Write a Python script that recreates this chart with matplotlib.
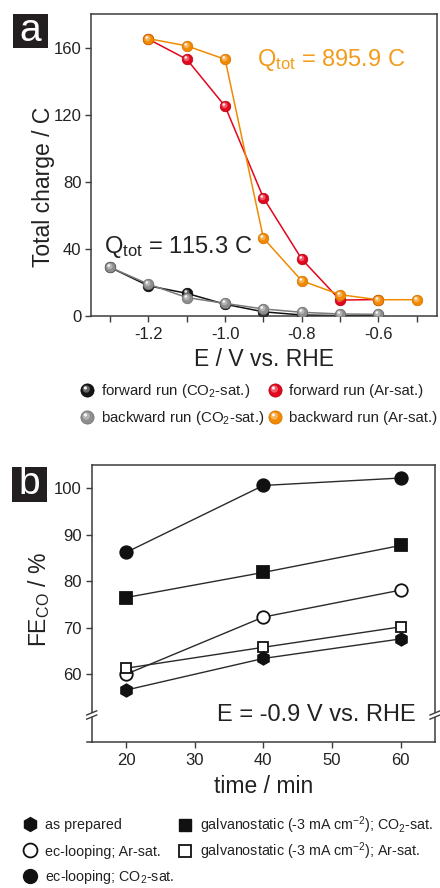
import numpy as np
import matplotlib
matplotlib.use('Agg')
import matplotlib.pyplot as plt
from matplotlib.path import Path
from matplotlib.lines import Line2D
from matplotlib.legend_handler import HandlerTuple
from matplotlib.patches import Rectangle

plt.rcParams['font.family'] = ['Liberation Sans', 'DejaVu Sans']
plt.rcParams['mathtext.fontset'] = 'custom'
plt.rcParams['mathtext.rm'] = 'Liberation Sans'
plt.rcParams['mathtext.it'] = 'Liberation Sans:italic'
plt.rcParams['mathtext.bf'] = 'Liberation Sans:bold'
plt.rcParams['mathtext.default'] = 'regular'
plt.rcParams['axes.unicode_minus'] = False

# ---------------- data: panel a ----------------
x_fwd_co2 = [-1.3, -1.2, -1.1, -1.0, -0.9, -0.8, -0.7, -0.6]
y_fwd_co2 = [29.0, 18.0, 13.5, 7.0, 2.5, 0.6, 0.2, 0.3]
x_bwd_co2 = [-1.3, -1.2, -1.1, -1.0, -0.9, -0.8, -0.7, -0.6]
y_bwd_co2 = [29.0, 19.0, 11.0, 7.5, 4.2, 2.2, 1.2, 1.0]
x_fwd_ar = [-1.2, -1.1, -1.0, -0.9, -0.8, -0.7, -0.6]
y_fwd_ar = [165.0, 153.0, 125.0, 70.4, 33.9, 9.5, 9.8]
x_bwd_ar = [-1.2, -1.1, -1.0, -0.9, -0.8, -0.7, -0.6, -0.5]
y_bwd_ar = [165.3, 161.0, 153.0, 46.4, 21.0, 12.7, 9.7, 9.7]
labels_a = ['forward run (CO$_2$-sat.)', 'backward run (CO$_2$-sat.)',
            'forward run (Ar-sat.)', 'backward run (Ar-sat.)']
xticks_a = [-1.3, -1.2, -1.1, -1.0, -0.9, -0.8, -0.7, -0.6, -0.5]
xticklabels_a = ['', '-1.2', '', '-1.0', '', '-0.8', '', '-0.6', '']
yticks_a = [0, 40, 80, 120, 160]
qtot_co2 = 'Q$_{tot}$ = 115.3 C'
qtot_ar = 'Q$_{tot}$ = 895.9 C'

# ---------------- data: panel b ----------------
time_min = [20, 40, 60]
fe_as_prepared = [56.6, 63.4, 67.6]
fe_loop_ar = [60.0, 72.3, 78.1]
fe_loop_co2 = [86.2, 100.6, 102.2]
fe_galv_co2 = [76.5, 81.9, 87.7]
fe_galv_ar = [61.3, 65.8, 70.2]
labels_b = ['as prepared', 'ec-looping; Ar-sat.', 'ec-looping; CO$_2$-sat.',
            'galvanostatic (-3 mA cm$^{-2}$); CO$_2$-sat.',
            'galvanostatic (-3 mA cm$^{-2}$); Ar-sat.']
xticks_b = [20, 30, 40, 50, 60]
yticks_b = [60, 70, 80, 90, 100]

W, H = 440, 888
fig = plt.figure(figsize=(W / 100, H / 100), dpi=100)


def rect(l, t, r, b):
    return [l / W, 1 - b / H, (r - l) / W, (b - t) / H]


def px(x, y):
    return (x / W, 1 - y / H)


SPINE = '#3c3c3c'
TXT = '#222222'


def highlight(cx, cy, r):
    circ = Path.circle((cx, cy), r)
    verts = np.vstack([[[1.0, 0.0], [-1.0, 0.0]], circ.vertices])
    codes = np.concatenate([[Path.MOVETO, Path.MOVETO], circ.codes])
    return Path(verts, codes)


HL_BIG = highlight(-0.18, 0.22, 0.55)
HL_SMALL = highlight(-0.32, 0.38, 0.24)


def ball(ax, x, y, color, edge, lw_color, ms=7.6, z=2):
    ax.plot(x, y, '-', color=lw_color, lw=1.1, marker='o', ms=ms,
            mfc=color, mec=edge, mew=0.5, zorder=z)
    ax.plot(x, y, ls='none', marker=HL_BIG, ms=ms, mfc='white',
            mec='none', alpha=0.35, zorder=z + 0.1)
    ax.plot(x, y, ls='none', marker=HL_SMALL, ms=ms, mfc='white',
            mec='none', alpha=0.9, zorder=z + 0.2)


def ball_handle(color, edge, ms=9.5):
    b = Line2D([], [], ls='none', marker='o', ms=ms, mfc=color, mec=edge, mew=0.5)
    h1 = Line2D([], [], ls='none', marker=HL_BIG, ms=ms, mfc='white', mec='none', alpha=0.35)
    h2 = Line2D([], [], ls='none', marker=HL_SMALL, ms=ms, mfc='white', mec='none', alpha=0.9)
    return (b, h1, h2)


BLACK, BLACK_E = '#151515', '#000000'
GRAY, GRAY_E = '#8e8e8e', '#6a6a6a'
RED, RED_E = '#e3061c', '#b00010'
ORANGE, ORANGE_E = '#f18a00', '#d07000'

# ================= panel a =================
axa = fig.add_axes(rect(91, 14, 437, 316))
ball(axa, x_fwd_co2, y_fwd_co2, BLACK, BLACK_E, '#111111', z=2)
ball(axa, x_bwd_co2, y_bwd_co2, GRAY, GRAY_E, '#7a7a7a', z=3)
ball(axa, x_fwd_ar, y_fwd_ar, RED, RED_E, RED, z=4)
ball(axa, x_bwd_ar, y_bwd_ar, ORANGE, ORANGE_E, ORANGE, z=5)
axa.set_xlim(-1.35, -0.447)
axa.set_ylim(0, 180)
axa.set_xticks(xticks_a)
axa.set_xticklabels(xticklabels_a)
axa.set_yticks(yticks_a)
axa.tick_params(direction='out', length=4, width=1, colors=SPINE,
                labelcolor=TXT, labelsize=12, pad=3)
axa.tick_params(axis='x', pad=4)
for s in axa.spines.values():
    s.set_color(SPINE)
    s.set_linewidth(1.1)
axa.set_ylabel('Total charge / C', fontsize=16.5, color=TXT)
axa.yaxis.set_label_coords(-0.105, 0.427)
axa.set_xlabel('E / V vs. RHE', fontsize=16.5, color=TXT)
axa.xaxis.set_label_coords(0.5, -0.105)
fig.text(257 / W, 1 - 60 / H, qtot_ar, fontsize=17, color='#f39c1a', va='center')
fig.text(104 / W, 1 - 247 / H, qtot_co2, fontsize=17, color=TXT, va='center')

leg_kw = dict(frameon=False, handlelength=1.0, handletextpad=0.45,
              borderpad=0, borderaxespad=0,
              handler_map={tuple: HandlerTuple(ndivide=1, pad=0)},
              bbox_transform=fig.transFigure, loc='center left', labelcolor=TXT)

fs_a = 10.8
half_a = fs_a * 100 / 72 * 1.0 / 2
cols_a = [87, 87, 275, 275]
rows_a = [391, 418, 391, 418]
hand_a = [ball_handle(BLACK, BLACK_E), ball_handle(GRAY, GRAY_E),
          ball_handle(RED, RED_E), ball_handle(ORANGE, ORANGE_E)]
for h, lab, cx, cy in zip(hand_a, labels_a, cols_a, rows_a):
    fig.legend([h], [lab], bbox_to_anchor=px(cx - half_a, cy), fontsize=fs_a, **leg_kw)

# a label
fig.add_artist(Rectangle(px(13, 48), 35 / W, 34 / H, transform=fig.transFigure,
                         facecolor='#231f20', edgecolor='none'))
fig.text(30.5 / W, 1 - 31 / H, 'a', color='white', fontsize=28,
         ha='center', va='center')

# ================= panel b =================
axb = fig.add_axes(rect(91.7, 465, 435, 741.7))
LC = '#2a2a2a'
mk = dict(mec='#111111', mew=1.3, zorder=3)
axb.plot(time_min, fe_loop_co2, '-', color=LC, lw=1.0, marker='o', ms=9, mfc='#111111', **mk)
axb.plot(time_min, fe_galv_co2, '-', color=LC, lw=1.0, marker='s', ms=8, mfc='#111111', **mk)
axb.plot(time_min, fe_loop_ar, '-', color=LC, lw=1.0, marker='o', ms=9, mfc='white', **mk)
axb.plot(time_min, fe_galv_ar, '-', color=LC, lw=1.0, marker='s', ms=7.5, mfc='white', **mk)
axb.plot(time_min, fe_as_prepared, '-', color=LC, lw=1.0, marker='h', ms=9, mfc='#111111', **mk)
axb.set_xlim(15, 65)
axb.set_ylim(45.5, 105)
axb.set_xticks(xticks_b)
axb.set_yticks(yticks_b)
axb.tick_params(direction='out', length=4, width=1, colors=SPINE,
                labelcolor=TXT, labelsize=12, pad=3)
axb.tick_params(axis='x', pad=4)
for s in axb.spines.values():
    s.set_color(SPINE)
    s.set_linewidth(1.1)
axb.set_ylabel('FE$_{CO}$ / %', fontsize=16.5, color=TXT)
axb.yaxis.set_label_coords(-0.115, 0.515)
axb.set_xlabel('time / min', fontsize=16.5, color=TXT)
axb.xaxis.set_label_coords(0.5, -0.12)
axb.text(0.945, 0.0965, 'E = -0.9 V vs. RHE', transform=axb.transAxes,
         fontsize=17, color=TXT, ha='right', va='center')

# axis breaks
bw, bh = 0.0146, 0.0075
yb = 0.0965
gap = 0.0075
for xs in (0.0, 1.0):
    axb.add_patch(Rectangle((xs - 0.006, yb - gap), 0.012, 2 * gap, transform=axb.transAxes,
                            facecolor='white', edgecolor='none', clip_on=False, zorder=5))
    for dy in (-gap, gap):
        axb.add_line(Line2D([xs - bw, xs + bw], [yb + dy - bh, yb + dy + bh],
                            transform=axb.transAxes, color=SPINE, lw=1.0,
                            clip_on=False, zorder=6))
axb.add_line(Line2D([-0.015, 0.0], [0.0, 0.0], transform=axb.transAxes,
                    color=SPINE, lw=1.1, clip_on=False))

fs_b = 10.3
half_b = fs_b * 100 / 72 * 1.0 / 2
hand_b = [Line2D([], [], ls='none', marker='h', ms=10, mfc='#111111', mec='#111111'),
          Line2D([], [], ls='none', marker='o', ms=10, mfc='white', mec='#111111', mew=1.3),
          Line2D([], [], ls='none', marker='o', ms=10, mfc='#111111', mec='#111111'),
          Line2D([], [], ls='none', marker='s', ms=8.5, mfc='#111111', mec='#111111'),
          Line2D([], [], ls='none', marker='s', ms=8.5, mfc='white', mec='#111111', mew=1.3)]
cols_b = [30, 30, 30, 185, 185]
rows_b = [825, 851.5, 877, 825, 851.5]
legb = dict(leg_kw)
legb.update(handletextpad=0.55)
for h, lab, cx, cy in zip(hand_b, labels_b, cols_b, rows_b):
    fig.legend([h], [lab], bbox_to_anchor=px(cx - half_b, cy), fontsize=fs_b, **legb)

fig.add_artist(Rectangle(px(12, 502), 35 / W, 35 / H, transform=fig.transFigure,
                         facecolor='#231f20', edgecolor='none'))
fig.text(29.5 / W, 1 - 484 / H, 'b', color='white', fontsize=28,
         ha='center', va='center')

fig.savefig('out.png', dpi=100)
